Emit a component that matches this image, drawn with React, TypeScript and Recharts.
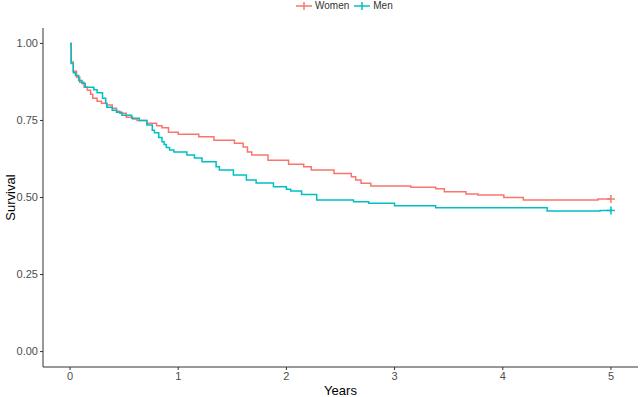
import { LineChart, Line, XAxis, YAxis } from "recharts";

const womenTimes = [0, 0.01, 0.03, 0.06, 0.09, 0.13, 0.16, 0.19, 0.21, 0.25, 0.29, 0.34, 0.39, 0.43, 0.46, 0.52, 0.58, 0.62, 0.71, 0.8, 0.85, 0.91, 1.0, 1.19, 1.33, 1.52, 1.6, 1.64, 1.68, 1.83, 2.02, 2.16, 2.23, 2.44, 2.6, 2.64, 2.69, 2.78, 3.15, 3.38, 3.46, 3.66, 3.77, 4.01, 4.19, 4.88, 5.0];
const womenSurv = [1.0, 0.94, 0.91, 0.89, 0.874, 0.858, 0.848, 0.835, 0.822, 0.812, 0.806, 0.8, 0.79, 0.78, 0.773, 0.76, 0.755, 0.75, 0.741, 0.733, 0.726, 0.712, 0.705, 0.697, 0.686, 0.676, 0.664, 0.648, 0.638, 0.621, 0.608, 0.6, 0.589, 0.578, 0.567, 0.557, 0.546, 0.537, 0.533, 0.528, 0.519, 0.511, 0.508, 0.5, 0.492, 0.495, 0.495];

const menTimes = [0, 0.01, 0.03, 0.05, 0.08, 0.11, 0.14, 0.22, 0.25, 0.3, 0.33, 0.34, 0.39, 0.43, 0.48, 0.57, 0.64, 0.71, 0.76, 0.78, 0.82, 0.85, 0.87, 0.89, 0.92, 0.96, 1.08, 1.15, 1.22, 1.35, 1.38, 1.51, 1.63, 1.72, 1.88, 2.0, 2.04, 2.14, 2.28, 2.62, 2.76, 3.0, 3.38, 4.41, 4.9, 5.0];
const menSurv = [1.0, 0.935, 0.905, 0.896, 0.88, 0.87, 0.858, 0.85, 0.84, 0.822, 0.805, 0.793, 0.783, 0.777, 0.767, 0.757, 0.75, 0.735, 0.718, 0.71, 0.695, 0.681, 0.672, 0.662, 0.654, 0.648, 0.638, 0.628, 0.616, 0.6, 0.589, 0.573, 0.557, 0.547, 0.535, 0.527, 0.521, 0.51, 0.492, 0.486, 0.481, 0.473, 0.467, 0.456, 0.458, 0.458];

const xTicks = [0, 1, 2, 3, 4, 5];
const yTicks = [0, 0.25, 0.5, 0.75, 1];

const WOMEN = "#F8766D";
const MEN = "#00BFC4";

const womenData = womenTimes.map((t, i) => ({ t, s: womenSurv[i] }));
const menData = menTimes.map((t, i) => ({ t, s: menSurv[i] }));

const font = "'Liberation Sans', Arial, sans-serif";

function censorDot(color: string, last: number) {
  return (props: any) => {
    const { cx, cy, index } = props;
    if (index !== last) return <g key={`d${index}`} />;
    return (
      <g key={`d${index}`} stroke={color} strokeWidth={1.5}>
        <line x1={cx - 4} x2={cx + 4} y1={cy} y2={cy} />
        <line x1={cx} x2={cx} y1={cy - 4} y2={cy + 4} />
      </g>
    );
  };
}

function LegendKey({ color }: { color: string }) {
  return (
    <svg width={16} height={10} style={{ display: "block" }}>
      <line x1={0} x2={16} y1={5} y2={5} stroke={color} strokeWidth={1.5} />
      <line x1={8} x2={8} y1={1} y2={9} stroke={color} strokeWidth={1.5} />
    </svg>
  );
}

// axis titles drawn from the axis viewBox
const xTitle = (props: any) => {
  const { x, y, width } = props.viewBox;
  return (
    <text x={x + width / 2} y={y + 28} textAnchor="middle" fontSize={13} fill="#000" fontFamily={font}>
      Years
    </text>
  );
};

const yTitle = (props: any) => {
  const { y, height } = props.viewBox;
  const cx = 10;
  const cy = y + height / 2;
  return (
    <text x={cx} y={cy} transform={`rotate(-90 ${cx} ${cy})`} textAnchor="middle" dominantBaseline="central" fontSize={13} fill="#000" fontFamily={font}>
      Survival
    </text>
  );
};

export default function App() {
  return (
    <div style={{ position: "absolute", left: 0, top: 0, width: 641, height: 397, background: "#fff" }}>
      <div
        style={{
          position: "absolute",
          top: 0,
          left: 296,
          display: "flex",
          alignItems: "center",
          gap: 3,
          fontFamily: font,
          fontSize: 10,
          color: "#333",
          lineHeight: "11px",
        }}
      >
        <LegendKey color={WOMEN} />
        <span style={{ marginRight: 2 }}>Women</span>
        <LegendKey color={MEN} />
        <span>Men</span>
      </div>
      <LineChart width={641} height={397} margin={{ top: 28, right: 3, bottom: 0, left: 0 }}>
        <XAxis
          type="number"
          dataKey="t"
          domain={[-0.25, 5.25]}
          ticks={xTicks}
          allowDataOverflow
          height={30}
          tick={{ fontSize: 11, fill: "#4D4D4D", fontFamily: font }}
          tickSize={3}
          tickMargin={2}
          stroke="#333"
          label={xTitle}
        />
        <YAxis
          type="number"
          dataKey="s"
          domain={[-0.05, 1.05]}
          ticks={yTicks}
          allowDataOverflow
          width={43}
          tickFormatter={(v: number) => v.toFixed(2)}
          tick={{ fontSize: 11, fill: "#4D4D4D", fontFamily: font }}
          tickSize={3}
          tickMargin={2}
          stroke="#333"
          label={yTitle}
        />
        <Line
          data={womenData}
          dataKey="s"
          type="stepAfter"
          stroke={WOMEN}
          strokeWidth={1.5}
          dot={censorDot(WOMEN, womenData.length - 1)}
          activeDot={false}
          isAnimationActive={false}
        />
        <Line
          data={menData}
          dataKey="s"
          type="stepAfter"
          stroke={MEN}
          strokeWidth={1.5}
          dot={censorDot(MEN, menData.length - 1)}
          activeDot={false}
          isAnimationActive={false}
        />
      </LineChart>
    </div>
  );
}
